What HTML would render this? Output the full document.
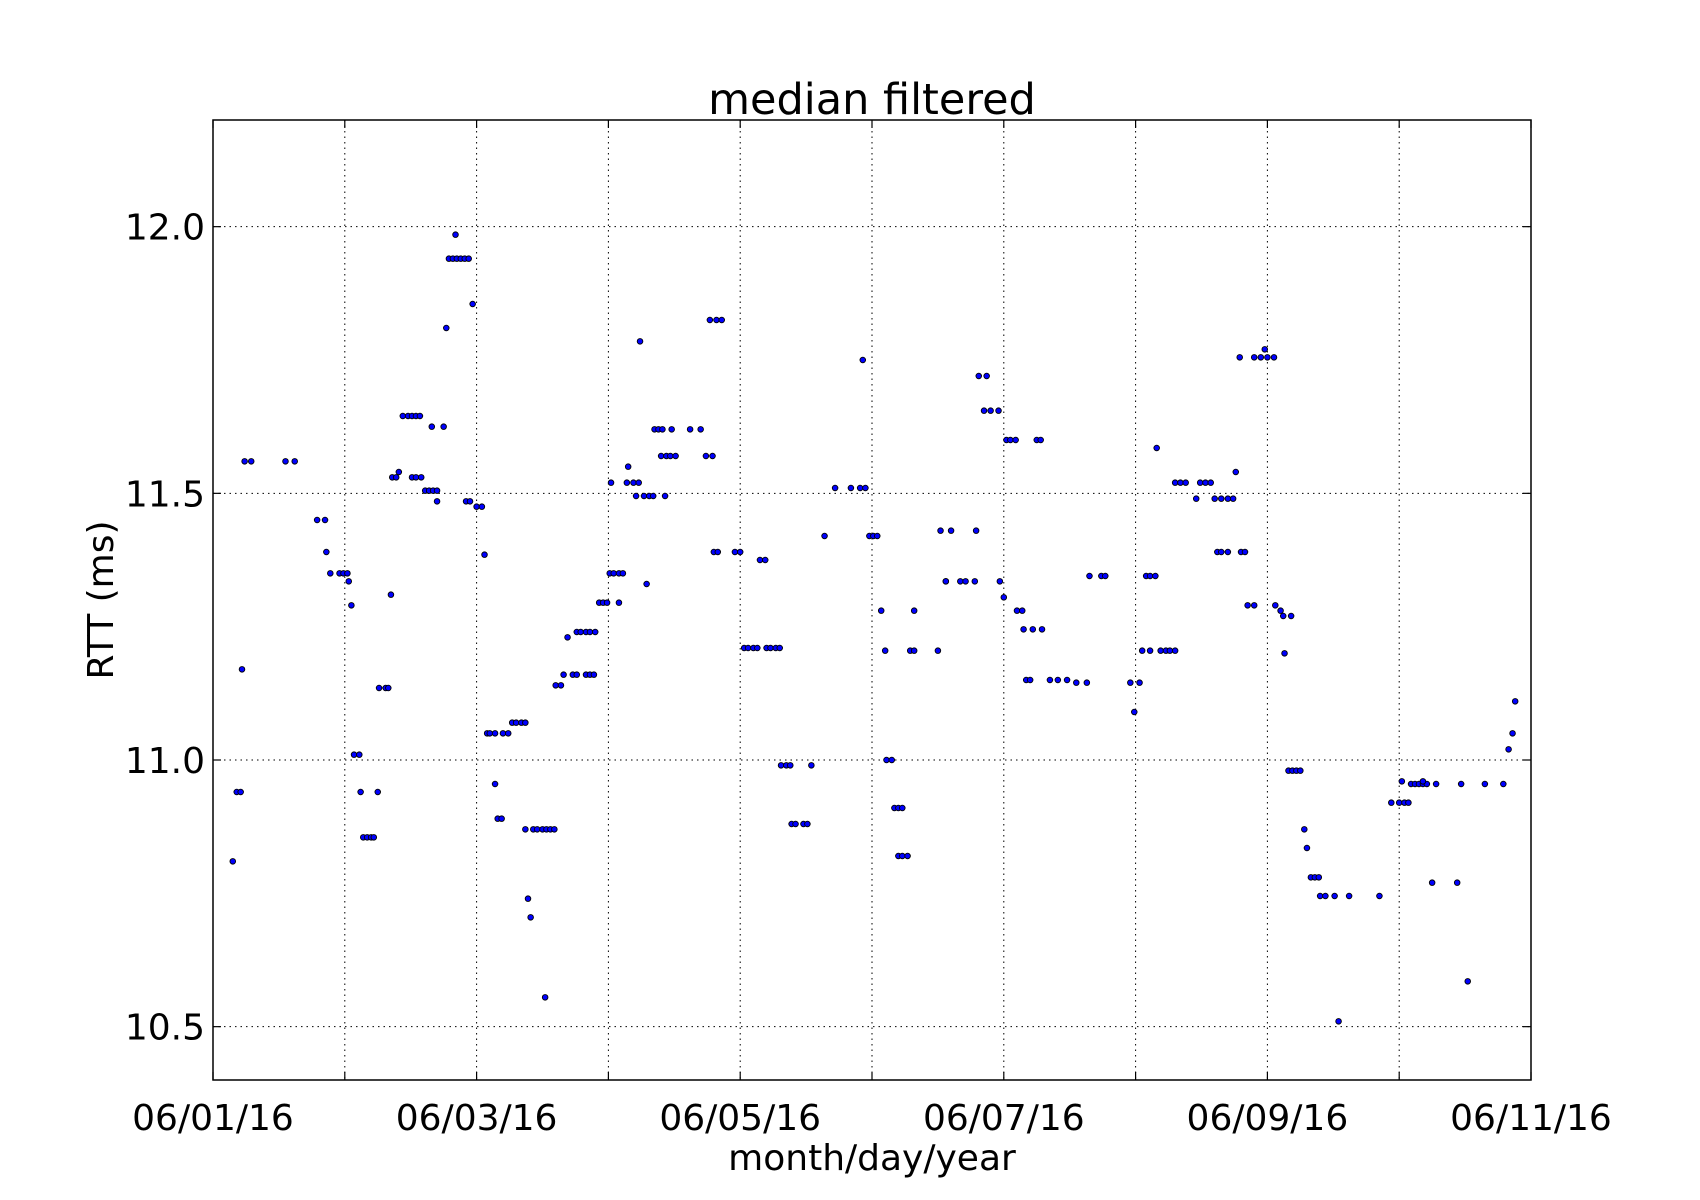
<!DOCTYPE html>
<html><head><meta charset="utf-8"><style>
html,body{margin:0;padding:0;background:#fff}
svg{display:block;font-family:"DejaVu Sans","Liberation Sans",sans-serif}
</style></head><body>
<svg id="chart" width="1700" height="1200" viewBox="0 0 1700 1200" xmlns="http://www.w3.org/2000/svg">
<rect width="1700" height="1200" fill="#fff"/>
<text x="872" y="114" font-size="43" text-anchor="middle">median filtered</text>
<text x="872" y="1170" font-size="36" text-anchor="middle">month/day/year</text>
<text transform="translate(113,600) rotate(-90)" font-size="36" text-anchor="middle">RTT (ms)</text>
<g id="grid"></g>
<g id="points"></g>
<g id="axes"></g>
</svg>
<script>
const xTickDays=[0,1,2,3,4,5,6,7,8,9,10];
const xTickLabels=["06/01/16","","06/03/16","","06/05/16","","06/07/16","","06/09/16","","06/11/16"];
const yTicks=[10.5,11.0,11.5,12.0];
const yTickLabels=["10.5","11.0","11.5","12.0"];
const days=[0.15,0.18,0.21,0.22,0.24,0.29,0.55,0.62,0.79,0.85,0.86,0.89,0.96,0.99,1.02,1.03,1.05,1.07,1.11,1.12,1.14,1.17,1.2,1.22,1.25,1.26,1.31,1.33,1.35,1.36,1.39,1.41,1.44,1.48,1.51,1.54,1.57,1.51,1.54,1.58,1.61,1.64,1.67,1.7,1.66,1.7,1.75,1.77,1.79,1.82,1.85,1.88,1.91,1.94,1.84,1.92,1.95,1.97,2.0,2.04,2.06,2.08,2.1,2.14,2.14,2.16,2.19,2.2,2.24,2.27,2.3,2.34,2.37,2.37,2.39,2.41,2.43,2.46,2.5,2.53,2.56,2.59,2.52,2.6,2.64,2.66,2.69,2.73,2.76,2.76,2.79,2.83,2.86,2.83,2.86,2.89,2.9,2.93,2.96,2.99,3.01,3.04,3.08,3.11,3.02,3.08,3.15,3.14,3.19,3.23,3.21,3.24,3.27,3.31,3.34,3.29,3.35,3.38,3.41,3.4,3.44,3.47,3.51,3.43,3.48,3.62,3.7,3.74,3.79,3.77,3.82,3.86,3.8,3.83,3.96,4.0,4.03,4.06,4.1,4.13,4.15,4.19,4.2,4.23,4.27,4.3,4.31,4.35,4.38,4.39,4.42,4.48,4.51,4.54,4.64,4.72,4.84,4.91,4.95,4.93,4.98,5.01,5.04,5.07,5.1,5.11,5.15,5.17,5.2,5.23,5.2,5.23,5.27,5.29,5.32,5.32,5.5,5.52,5.56,5.6,5.56,5.67,5.71,5.78,5.79,5.81,5.87,5.85,5.9,5.96,5.97,6.0,6.02,6.05,6.09,6.1,6.14,6.15,6.17,6.2,6.22,6.29,6.25,6.28,6.35,6.41,6.48,6.55,6.63,6.65,6.74,6.77,6.96,6.99,7.03,7.05,7.11,7.08,7.11,7.15,7.16,7.19,7.23,7.26,7.3,7.3,7.34,7.38,7.46,7.49,7.53,7.57,7.6,7.65,7.7,7.74,7.62,7.65,7.7,7.76,7.79,7.8,7.83,7.85,7.9,7.9,7.95,8.0,8.05,7.98,8.06,8.1,8.12,8.18,8.13,8.16,8.19,8.22,8.25,8.28,8.3,8.33,8.36,8.39,8.4,8.44,8.51,8.54,8.62,8.85,8.94,9.0,9.04,9.07,9.02,9.09,9.12,9.15,9.18,9.21,9.18,9.25,9.28,9.44,9.47,9.52,9.65,9.79,9.83,9.86,9.88];
const rtt=[10.81,10.94,10.94,11.17,11.56,11.56,11.56,11.56,11.45,11.45,11.39,11.35,11.35,11.35,11.35,11.335,11.29,11.01,11.01,10.94,10.855,10.855,10.855,10.855,10.94,11.135,11.135,11.135,11.31,11.53,11.53,11.54,11.645,11.645,11.645,11.645,11.645,11.53,11.53,11.53,11.505,11.505,11.505,11.505,11.625,11.485,11.625,11.81,11.94,11.94,11.94,11.94,11.94,11.94,11.985,11.485,11.485,11.855,11.475,11.475,11.385,11.05,11.05,11.05,10.955,10.89,10.89,11.05,11.05,11.07,11.07,11.07,11.07,10.87,10.74,10.705,10.87,10.87,10.87,10.87,10.87,10.87,10.555,11.14,11.14,11.16,11.23,11.16,11.16,11.24,11.24,11.24,11.24,11.16,11.16,11.16,11.24,11.295,11.295,11.295,11.35,11.35,11.35,11.35,11.52,11.295,11.55,11.52,11.52,11.52,11.495,11.785,11.495,11.495,11.495,11.33,11.62,11.62,11.62,11.57,11.57,11.57,11.57,11.495,11.62,11.62,11.62,11.57,11.57,11.825,11.825,11.825,11.39,11.39,11.39,11.39,11.21,11.21,11.21,11.21,11.375,11.375,11.21,11.21,11.21,11.21,10.99,10.99,10.99,10.88,10.88,10.88,10.88,10.99,11.42,11.51,11.51,11.51,11.51,11.75,11.42,11.42,11.42,11.28,11.205,11.0,11.0,10.91,10.91,10.91,10.82,10.82,10.82,11.205,11.205,11.28,11.205,11.43,11.335,11.43,11.335,11.335,11.335,11.335,11.43,11.72,11.72,11.655,11.655,11.655,11.335,11.305,11.6,11.6,11.6,11.28,11.28,11.245,11.15,11.15,11.245,11.245,11.6,11.6,11.15,11.15,11.15,11.145,11.145,11.345,11.345,11.345,11.145,11.09,11.145,11.205,11.205,11.345,11.345,11.345,11.585,11.205,11.205,11.205,11.205,11.52,11.52,11.52,11.49,11.52,11.52,11.52,11.49,11.49,11.49,11.49,11.39,11.39,11.39,11.54,11.755,11.39,11.39,11.29,11.29,11.755,11.755,11.755,11.755,11.77,11.29,11.28,11.27,11.27,11.2,10.98,10.98,10.98,10.98,10.87,10.835,10.78,10.78,10.78,10.745,10.745,10.745,10.51,10.745,10.745,10.92,10.92,10.92,10.92,10.96,10.955,10.955,10.955,10.955,10.955,10.96,10.77,10.955,10.77,10.955,10.585,10.955,10.955,11.02,11.05,11.11];

const L=213,R=1531,T=120,B=1080,X0=0,X1=10,Y0=10.4,Y1=12.2;
const xs=d=>L+(d-X0)/(X1-X0)*(R-L);
const ys=v=>B-(v-Y0)/(Y1-Y0)*(B-T);
const NS="http://www.w3.org/2000/svg";
function mk(tag,attrs,parent){const e=document.createElementNS(NS,tag);for(const k in attrs)e.setAttribute(k,attrs[k]);parent.appendChild(e);return e;}
const grid=document.getElementById('grid'),pts=document.getElementById('points'),axes=document.getElementById('axes');
xTickDays.forEach((d,i)=>{
  const x=xs(d);
  if(d>X0&&d<X1){const g=mk('line',{x1:x,x2:x,y1:T,y2:B,stroke:'#000','stroke-width':1,'stroke-dasharray':'1.5,4'},grid);
  
  }
  const t1=mk('line',{x1:x,x2:x,y1:B,y2:B-8,stroke:'#000','stroke-width':1.2},axes);
  
  
  const t2=mk('line',{x1:x,x2:x,y1:T,y2:T+8,stroke:'#000','stroke-width':1.2},axes);
  
  
  if(xTickLabels[i]){const tx=mk('text',{x:x,y:1130,'font-size':36,'text-anchor':'middle'},axes);tx.textContent=xTickLabels[i];
  
  }
});
yTicks.forEach((v,i)=>{
  const y=ys(v);
  const g=mk('line',{x1:L,x2:R,y1:y,y2:y,stroke:'#000','stroke-width':1,'stroke-dasharray':'1.5,4'},grid);
  
  
  const t1=mk('line',{x1:L,x2:L+8,y1:y,y2:y,stroke:'#000','stroke-width':1.2},axes);
  
  
  const t2=mk('line',{x1:R,x2:R-8,y1:y,y2:y,stroke:'#000','stroke-width':1.2},axes);
  
  
  const tx=mk('text',{x:L-8,y:y+13,'font-size':36,'text-anchor':'end'},axes);tx.textContent=yTickLabels[i];
  
  
});
const fr=mk('rect',{x:L,y:T,width:R-L,height:B-T,fill:'none',stroke:'#000','stroke-width':1.5},axes);


days.forEach((d,i)=>{
  const c=mk('circle',{cx:xs(d),cy:ys(rtt[i]),r:2.8,fill:'#0000ff',stroke:'#000','stroke-width':0.9},pts);
  
  
});
</script>
</body></html>
